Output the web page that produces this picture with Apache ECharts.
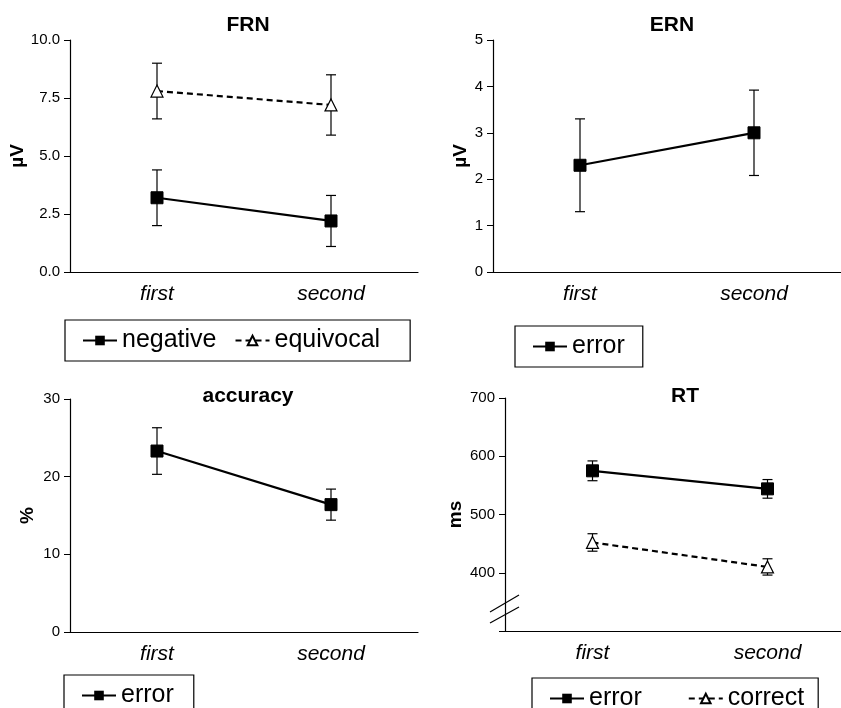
<!DOCTYPE html>
<html>
<head>
<meta charset="utf-8">
<script src="https://cdn.jsdelivr.net/npm/echarts@6/dist/echarts.min.js"></script>
<style>
  html, body { margin: 0; padding: 0; background: #fff; }
  #chart { width: 841px; height: 708px; }
</style>
</head>
<body>
<div id="chart"></div>
<script>
// categories
const categories = ['first', 'second'];

// FRN (µV)
const frnNegative = [3.2, 2.2];
const frnNegativeLow = [2.0, 1.1];
const frnNegativeHigh = [4.4, 3.3];
const frnEquivocal = [7.8, 7.2];
const frnEquivocalLow = [6.6, 5.9];
const frnEquivocalHigh = [9.0, 8.5];

// ERN (µV)
const ernError = [2.3, 3.0];
const ernErrorLow = [1.3, 2.08];
const ernErrorHigh = [3.3, 3.92];

// accuracy (%)
const accError = [23.3, 16.4];
const accErrorLow = [20.3, 14.4];
const accErrorHigh = [26.3, 18.4];

// RT (ms)
const rtError = [575, 544];
const rtErrorLow = [558, 528];
const rtErrorHigh = [592, 560];
const rtCorrect = [452, 410];
const rtCorrectLow = [437, 396];
const rtCorrectHigh = [467, 424];

const FONT = 'Liberation Sans, Arial, sans-serif';

function errorBars(idx, low, high) {
  return {
    type: 'custom',
    xAxisIndex: idx,
    yAxisIndex: idx,
    z: 1,
    silent: true,
    renderItem: function (params, api) {
      const top = api.coord([api.value(0), api.value(2)]);
      const bot = api.coord([api.value(0), api.value(1)]);
      const w = 5;
      const st = { stroke: '#000', lineWidth: 1.2 };
      return {
        type: 'group',
        children: [
          { type: 'line', shape: { x1: top[0], y1: top[1], x2: bot[0], y2: bot[1] }, style: st },
          { type: 'line', shape: { x1: top[0] - w, y1: top[1], x2: top[0] + w, y2: top[1] }, style: st },
          { type: 'line', shape: { x1: bot[0] - w, y1: bot[1], x2: bot[0] + w, y2: bot[1] }, style: st }
        ]
      };
    },
    data: categories.map((c, i) => [i, low[i], high[i]])
  };
}

function solidLine(name, idx, values) {
  return {
    name: name,
    type: 'line',
    xAxisIndex: idx,
    yAxisIndex: idx,
    z: 3,
    symbol: 'rect',
    symbolSize: 12,
    lineStyle: { color: '#000', width: 2.2, type: 'solid' },
    itemStyle: { color: '#000', borderColor: '#000' },
    data: values
  };
}

function dashedLine(name, idx, values) {
  return {
    name: name,
    type: 'line',
    xAxisIndex: idx,
    yAxisIndex: idx,
    z: 3,
    symbol: 'triangle',
    symbolSize: 12,
    lineStyle: { color: '#000', width: 2.2, type: [6, 4] },
    itemStyle: { color: '#fff', borderColor: '#000', borderWidth: 1.2 },
    data: values
  };
}

function xAx(idx) {
  return {
    type: 'category',
    gridIndex: idx,
    data: categories,
    boundaryGap: true,
    axisLine: { lineStyle: { color: '#000', width: 1.2 } },
    axisTick: { alignWithLabel: true, length: 6, lineStyle: { color: '#000' } },
    axisLabel: { color: '#000', fontSize: 21, fontStyle: 'italic', fontFamily: FONT, margin: 12 }
  };
}

function yAx(idx, name, min, max, interval, gap, fmt) {
  return {
    type: 'value',
    gridIndex: idx,
    min: min,
    max: max,
    interval: interval,
    name: name,
    nameLocation: 'middle',
    nameGap: gap,
    nameTextStyle: { color: '#000', fontSize: 19, fontWeight: 'bold', fontFamily: FONT },
    axisLine: { show: true, lineStyle: { color: '#000', width: 1.2 } },
    axisTick: { show: true, length: 6, lineStyle: { color: '#000' } },
    axisLabel: { color: '#000', fontSize: 15, fontFamily: FONT, margin: 10, formatter: fmt },
    splitLine: { show: false }
  };
}

function legendBox(left, top, names, gap, padRight) {
  return {
    left: left,
    top: top,
    orient: 'horizontal',
    data: names,
    itemWidth: 34,
    itemHeight: 12,
    itemGap: gap,
    padding: [8, padRight, 8, 17],
    borderColor: '#000',
    borderWidth: 1.2,
    borderRadius: 0,
    selectedMode: false,
    textStyle: { color: '#000', fontSize: 25, fontFamily: FONT }
  };
}

const titleStyle = { fontSize: 21, fontWeight: 'bold', fontFamily: FONT, color: '#000' };

const chart = echarts.init(document.getElementById('chart'));

const option = {
  backgroundColor: '#fff',
  animation: false,
  title: [
    { text: 'FRN', left: 243, top: 10, textAlign: 'center', textStyle: titleStyle },
    { text: 'ERN', left: 667, top: 10, textAlign: 'center', textStyle: titleStyle },
    { text: 'accuracy', left: 243, top: 381, textAlign: 'center', textStyle: titleStyle },
    { text: 'RT', left: 680, top: 381, textAlign: 'center', textStyle: titleStyle }
  ],
  grid: [
    { left: 70, top: 40, width: 348, height: 232, outerBoundsMode: 'none' },
    { left: 493, top: 40, width: 348, height: 232, outerBoundsMode: 'none' },
    { left: 70, top: 399, width: 348, height: 233, outerBoundsMode: 'none' },
    { left: 505, top: 398, width: 350, height: 233, outerBoundsMode: 'none' }
  ],
  xAxis: [xAx(0), xAx(1), xAx(2), xAx(3)],
  yAxis: [
    yAx(0, 'µV', 0, 10, 2.5, 33, v => v.toFixed(1)),
    yAx(1, 'µV', 0, 5, 1, 21, v => String(v)),
    yAx(2, '%', 0, 30, 10, 33, v => String(v)),
    yAx(3, 'ms', 300, 700, 100, 40, v => (v === 300 ? '' : String(v)))
  ],
  legend: [
    legendBox(65, 320, ['negative', 'equivocal'], 18, 30),
    legendBox(515, 326, ['error'], 10, 18),
    legendBox(64, 675, ['error'], 10, 20),
    legendBox(532, 678, ['error', 'correct'], 46, 14)
  ],
  graphic: [
    { type: 'line', z: 100, shape: { x1: 490, y1: 612, x2: 519, y2: 595 }, style: { stroke: '#000', lineWidth: 1.2 } },
    { type: 'line', z: 100, shape: { x1: 490, y1: 623, x2: 519, y2: 607 }, style: { stroke: '#000', lineWidth: 1.2 } }
  ],
  series: [
    errorBars(0, frnNegativeLow, frnNegativeHigh),
    errorBars(0, frnEquivocalLow, frnEquivocalHigh),
    solidLine('negative', 0, frnNegative),
    dashedLine('equivocal', 0, frnEquivocal),

    errorBars(1, ernErrorLow, ernErrorHigh),
    solidLine('error', 1, ernError),

    errorBars(2, accErrorLow, accErrorHigh),
    solidLine('error', 2, accError),

    errorBars(3, rtErrorLow, rtErrorHigh),
    errorBars(3, rtCorrectLow, rtCorrectHigh),
    solidLine('error', 3, rtError),
    dashedLine('correct', 3, rtCorrect)
  ]
};

chart.setOption(option);
</script>
</body>
</html>
